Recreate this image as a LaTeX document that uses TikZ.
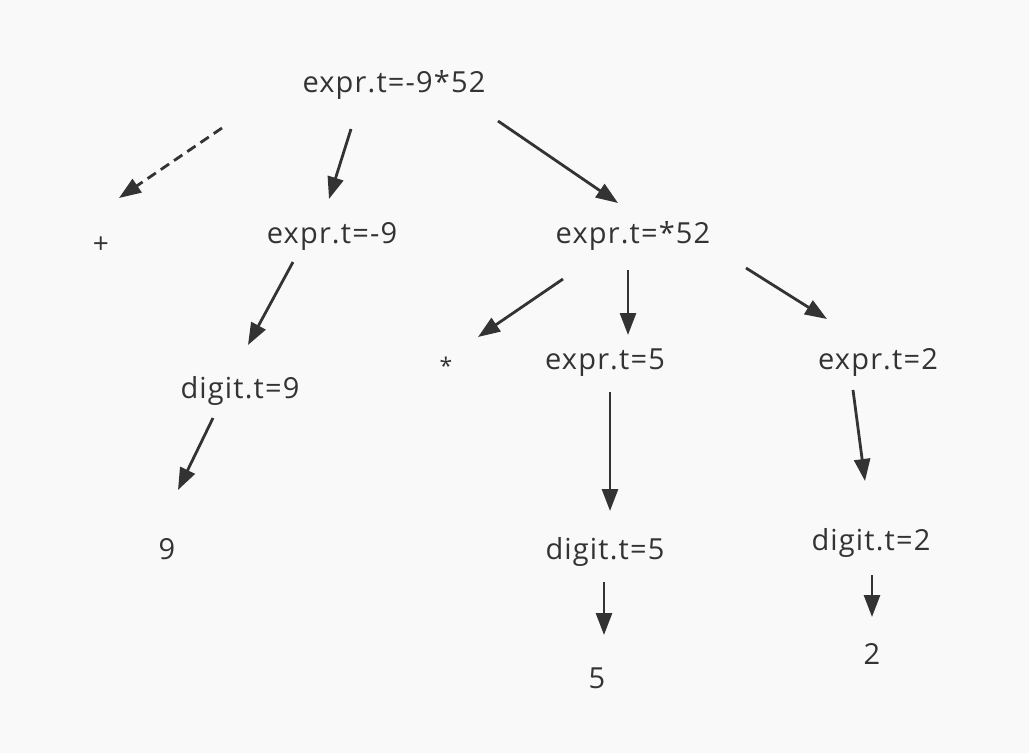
\documentclass[tikz,border=0pt]{standalone}
\usepackage{fontspec}
\setmainfont{Open Sans}[LetterSpace=4]
\usetikzlibrary{arrows.meta}
\definecolor{bg}{HTML}{F9F9F9}
\definecolor{ink}{HTML}{333333}
\tikzset{
  lbl/.style={anchor=base, inner sep=0pt, text=ink, font=\fontsize{29}{33}\selectfont},
  sym/.style={anchor=center, inner sep=0pt, text=ink, font=\fontsize{28}{32}\selectfont},
  edge/.style={draw=ink, line width=2.8pt, -{Triangle[length=22pt, width=16pt]}},
  dedge/.style={edge, dash pattern=on 10pt off 6pt}
}
\begin{document}
\begin{tikzpicture}[x=1pt, y=-1pt]
\fill[bg] (0,0) rectangle (1029,753);
\useasboundingbox (0,0) rectangle (1029,753);
% nodes
\node[lbl] (root) at (394,92) {expr.t=-9*52};
\node[sym] (plus) at (101,245) {+};
\node[lbl] (e9) at (332,243) {expr.t=-9};
\node[lbl] (e52) at (633,243) {expr.t=*52};
\node[lbl] (d9) at (240,398) {digit.t=9};
\node[sym, font=\fontsize{23}{27}\selectfont] (star) at (446,366) {*};
\node[lbl] (e5) at (605,369) {expr.t=5};
\node[lbl] (e2) at (878,369) {expr.t=2};
\node[lbl] (n9) at (167,559) {9};
\node[lbl] (d5) at (605,559) {digit.t=5};
\node[lbl] (d2) at (871,550) {digit.t=2};
\node[lbl] (n5) at (597,688) {5};
\node[lbl] (n2) at (872,664) {2};
% connector end points
\coordinate (a1s) at (222,128); \coordinate (a1e) at (119,198);
\coordinate (a2s) at (351,129); \coordinate (a2e) at (329,199);
\coordinate (a3s) at (498,121); \coordinate (a3e) at (618,203);
\coordinate (a4s) at (293,262); \coordinate (a4e) at (248,345);
\coordinate (a5s) at (563,279); \coordinate (a5e) at (478,337);
\coordinate (a6s) at (628,270); \coordinate (a6e) at (628,335);
\coordinate (a7s) at (746,268); \coordinate (a7e) at (827,319);
\coordinate (a8s) at (213,418); \coordinate (a8e) at (178,490);
\coordinate (a9s) at (610,392); \coordinate (a9e) at (610,511);
\coordinate (a10s) at (853,390); \coordinate (a10e) at (865,481);
\coordinate (a11s) at (604,582); \coordinate (a11e) at (604,635);
\coordinate (a12s) at (872,575); \coordinate (a12e) at (872,617);
% connectors
\draw[dedge] (a1s) -- (a1e);
\draw[edge] (a2s) -- (a2e);
\draw[edge] (a3s) -- (a3e);
\draw[edge] (a4s) -- (a4e);
\draw[edge] (a5s) -- (a5e);
\draw[edge] (a6s) -- (a6e);
\draw[edge] (a7s) -- (a7e);
\draw[edge] (a8s) -- (a8e);
\draw[edge] (a9s) -- (a9e);
\draw[edge] (a10s) -- (a10e);
\draw[edge] (a11s) -- (a11e);
\draw[edge] (a12s) -- (a12e);
\end{tikzpicture}
\end{document}
